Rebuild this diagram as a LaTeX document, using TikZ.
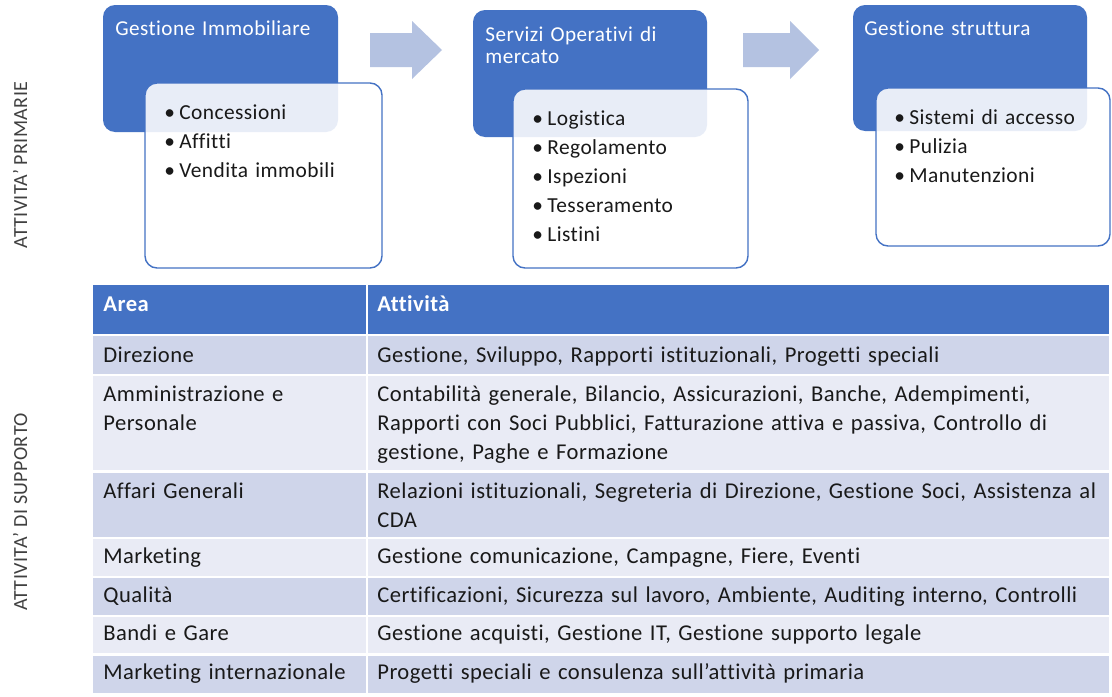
\documentclass[tikz,border=0pt]{standalone}
\usepackage{fontspec}
\setmainfont{Carlito}[LetterSpace=2,Ligatures=NoCommon]
\usetikzlibrary{positioning}

\definecolor{boxblue}{HTML}{4472C4}
\definecolor{arrowblue}{HTML}{B4C2E1}
\definecolor{rowdark}{HTML}{CFD5EA}
\definecolor{rowlight}{HTML}{E9EBF5}
\definecolor{labelgray}{HTML}{404040}

\tikzset{
  headbox/.style={fill=boxblue,rounded corners=6pt},
  listbox/.style={draw=boxblue,line width=0.7pt,fill=white,fill opacity=0.88,rounded corners=6pt},
  flowarrow/.style={fill=arrowblue},
  txt/.style={anchor=base west,inner sep=0pt,align=left,text width=#1,
    text=black!90,font=\fontsize{11.3}{14.5}\selectfont},
  txt/.default=130pt,
  listtxt/.style={txt,font=\fontsize{10.7}{14.5}\selectfont},
  boxtitle/.style={txt,text=white,font=\fontsize{10.6}{10.9}\selectfont},
  sidelabel/.style={rotate=90,anchor=base,inner sep=0pt,text=labelgray,
    font=\fontsize{10}{11}\selectfont},
}
\newcommand{\itm}{\makebox[7.5pt][l]{\textbullet}}

\begin{document}
\begin{tikzpicture}[x=0.5pt,y=-0.5pt]
  \path[use as bounding box,fill=white] (0,0) rectangle (1112,696);

  % attivita' primarie
  \fill[headbox] (103,5) rectangle (338,132);
  \fill[headbox] (473,10) rectangle (707,137);
  \fill[headbox] (853,5) rectangle (1087,131);
  \foreach \xa/\xb/\xc in {370/412/442,743/790/819}
    \fill[flowarrow] (\xa,33) -- (\xb,33) -- (\xb,21) -- (\xc,50)
      -- (\xb,79) -- (\xb,67) -- (\xa,67) -- cycle;
  \draw[listbox] (145,83) rectangle (382,268);
  \draw[listbox] (513,89) rectangle (748,268);
  \draw[listbox] (876,88) rectangle (1110,246);

  \node[boxtitle] (t-imm) at (115,35) {Gestione Immobiliare};
  \node[boxtitle] (t-serv) at (485,41.5) {Servizi Operativi di\\mercato};
  \node[boxtitle] (t-strut) at (864,35) {Gestione struttura};
  \node[listtxt] (l-imm) at (164,119)
    {\itm Concessioni\\\itm Affitti\\\itm Vendita immobili};
  \node[listtxt] (l-serv) at (532,125)
    {\itm Logistica\\\itm Regolamento\\\itm Ispezioni\\\itm Tesseramento\\\itm Listini};
  \node[listtxt] (l-strut) at (894,124)
    {\itm Sistemi di accesso\\\itm Pulizia\\\itm Manutenzioni};

  % attivita' di supporto
  \fill[boxblue] (93,285) rectangle (1109,335);
  \node[txt,text=white,font=\bfseries\fontsize{11.3}{14.5}\selectfont] (hd-area) at (103,311) {Area};
  \node[txt,text=white,font=\bfseries\fontsize{11.3}{14.5}\selectfont] (hd-att) at (377,311) {Attività};
  \foreach \ya/\yb/\yt/\rowcol/\rowarea/\rowtask [count=\i] in {
      335/375/362/rowdark/Direzione/{Gestione, Sviluppo, Rapporti istituzionali, Progetti speciali},
      375/471.5/401.5/rowlight/{Amministrazione e\\Personale}/{Contabilità generale, Bilancio, Assicurazioni, Banche, Adempimenti,\\Rapporti con Soci Pubblici, Fatturazione attiva e passiva, Controllo di\\gestione, Paghe e Formazione},
      471.5/538/498/rowdark/Affari Generali/{Relazioni istituzionali, Segreteria di Direzione, Gestione Soci, Assistenza al\\CDA},
      538/577/563/rowlight/Marketing/{Gestione comunicazione, Campagne, Fiere, Eventi},
      577/616/602/rowdark/Qualità/{Certificazioni, Sicurezza sul lavoro, Ambiente, Auditing interno, Controlli},
      616/654.5/640/rowlight/Bandi e Gare/{Gestione acquisti, Gestione IT, Gestione supporto legale},
      654.5/693/679/rowdark/Marketing internazionale/{Progetti speciali e consulenza sull’attività primaria}}{
    \fill[\rowcol] (93,\ya) rectangle (1109,\yb);
    \node[txt] (area-\i) at (103,\yt) {\rowarea};
    \node[txt=360pt] (task-\i) at (377,\yt) {\rowtask};
  }
  \foreach \y in {335,375,471.5,538,577,616,654.5}
    \draw[white,line width=1.3pt] (93,\y) -- (1109,\y);
  \draw[white,line width=1.3pt] (367,285) -- (367,693);

  \node[sidelabel] (lab-prim) at (27,165) {ATTIVITA’ PRIMARIE};
  \node[sidelabel] (lab-supp) at (27,512) {ATTIVITA’ DI SUPPORTO};
\end{tikzpicture}
\end{document}
